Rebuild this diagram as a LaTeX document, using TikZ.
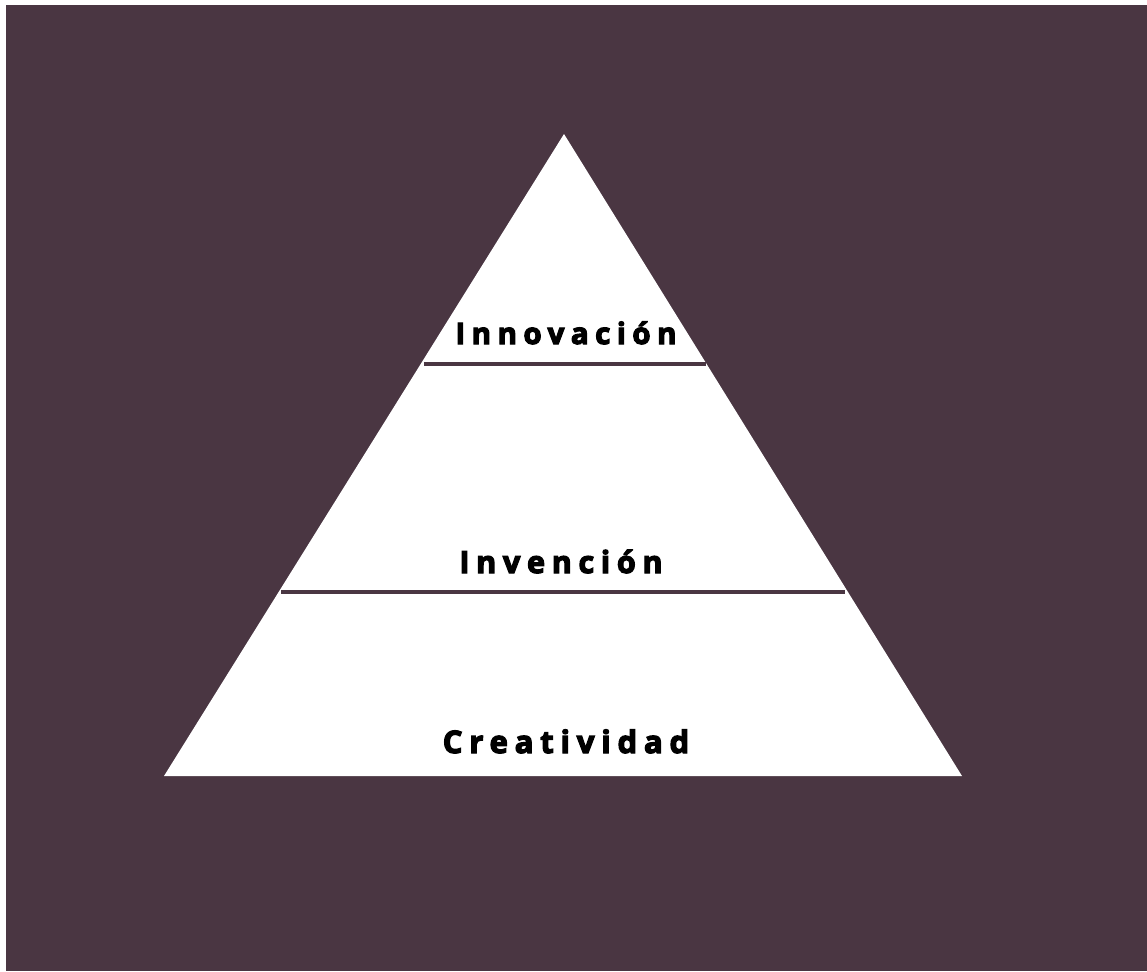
\documentclass[tikz,border=0pt]{standalone}
\usepackage{fontspec}
\setmainfont{Open Sans}
\newfontfamily\lblfont[LetterSpace=22,BoldFeatures={FakeBold=4}]{Open Sans}
\definecolor{bgplum}{HTML}{4A3642}
\begin{document}
\begin{tikzpicture}[x=1pt,y=-1pt,
  lbl/.style={font=\fontsize{29.5}{31}\selectfont\lblfont\bfseries, text=black, inner sep=0pt, anchor=base},
  divider/.style={draw=bgplum, line width=4pt}]
\useasboundingbox (0,0) rectangle (1147,971);
\fill[white] (0,0) rectangle (1147,971);
\fill[bgplum] (6,5) rectangle (1147,971);
\fill[white] (564,134) -- (962,776) -- (164,776) -- cycle;
\coordinate (d1l) at (424,364);
\coordinate (d1r) at (706,364);
\coordinate (d2l) at (281,592);
\coordinate (d2r) at (845,592);
\draw[divider] (d1l) -- (d1r);
\draw[divider] (d2l) -- (d2r);
\node[lbl] (innov) at (566,344) {Innovación};
\node[lbl, font=\fontsize{30.5}{32}\selectfont\lblfont\bfseries] (inven) at (561,573) {Invención};
\node[lbl, font=\fontsize{31}{32}\selectfont\lblfont\bfseries] (creat) at (566,753) {Creatividad};
\end{tikzpicture}
\end{document}
